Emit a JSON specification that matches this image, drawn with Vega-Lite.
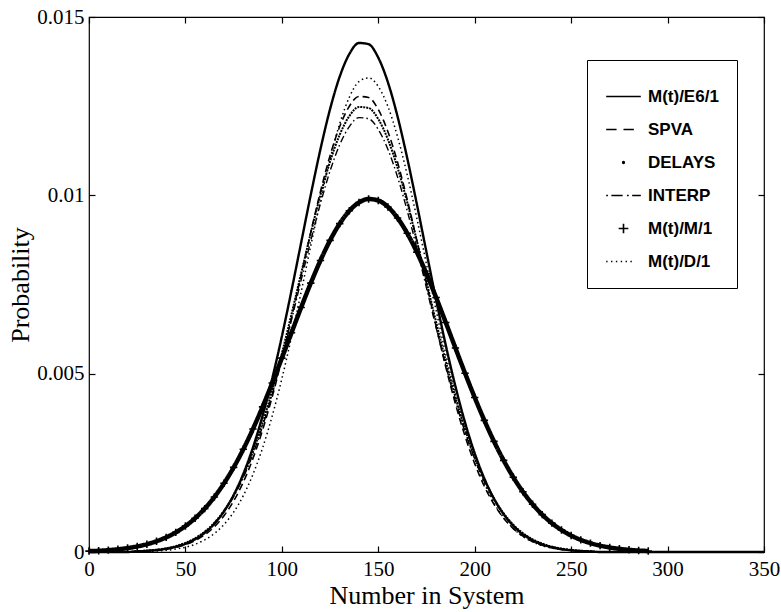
{
  "$schema": "https://vega.github.io/schema/vega-lite/v6.json",
  "width": 675,
  "height": 535,
  "autosize": {"type": "none"},
  "padding": {"left": 89, "top": 17, "right": 17, "bottom": 60},
  "background": "white",
  "config": {
    "view": {"stroke": "black", "strokeWidth": 1.2},
    "axis": {
      "domain": false,
      "grid": false,
      "ticks": true,
      "tickColor": "black",
      "tickSize": -6,
      "tickWidth": 1.2,
      "labelFont": "Liberation Serif",
      "labelFontSize": 21,
      "labelColor": "black",
      "titleFont": "Liberation Serif",
      "titleFontSize": 26,
      "titleFontWeight": "normal",
      "titleColor": "black",
      "labelFlush": false,
      "labelOverlap": false
    }
  },
  "data": {
    "values": [
      {"x": 0, "M(t)/E6/1": 0, "SPVA": 0, "DELAYS": 0, "INTERP": 0, "M(t)/M/1": 0.000024, "M(t)/D/1": 0},
      {"x": 5, "M(t)/E6/1": 0, "SPVA": 0, "DELAYS": 0, "INTERP": 0, "M(t)/M/1": 0.000035, "M(t)/D/1": 0},
      {"x": 10, "M(t)/E6/1": 0, "SPVA": 0, "DELAYS": 0, "INTERP": 0, "M(t)/M/1": 0.000052, "M(t)/D/1": 0},
      {"x": 15, "M(t)/E6/1": 0, "SPVA": 0, "DELAYS": 0, "INTERP": 0, "M(t)/M/1": 0.000076, "M(t)/D/1": 0},
      {"x": 20, "M(t)/E6/1": 0, "SPVA": 0, "DELAYS": 0, "INTERP": 0, "M(t)/M/1": 0.00011, "M(t)/D/1": 0},
      {"x": 25, "M(t)/E6/1": 0.000018, "SPVA": 0, "DELAYS": 0.000023, "INTERP": 0.000022, "M(t)/M/1": 0.000156, "M(t)/D/1": 0},
      {"x": 30, "M(t)/E6/1": 0.000031, "SPVA": 0.000028, "DELAYS": 0.00004, "INTERP": 0.000039, "M(t)/M/1": 0.000218, "M(t)/D/1": 0},
      {"x": 35, "M(t)/E6/1": 0.000053, "SPVA": 0.000047, "DELAYS": 0.000065, "INTERP": 0.000063, "M(t)/M/1": 0.000301, "M(t)/D/1": 0.000028},
      {"x": 40, "M(t)/E6/1": 0.000089, "SPVA": 0.00008, "DELAYS": 0.000105, "INTERP": 0.000102, "M(t)/M/1": 0.00041, "M(t)/D/1": 0.000048},
      {"x": 45, "M(t)/E6/1": 0.000144, "SPVA": 0.000129, "DELAYS": 0.000166, "INTERP": 0.000162, "M(t)/M/1": 0.00055, "M(t)/D/1": 0.000081},
      {"x": 50, "M(t)/E6/1": 0.000229, "SPVA": 0.000205, "DELAYS": 0.000256, "INTERP": 0.00025, "M(t)/M/1": 0.000727, "M(t)/D/1": 0.000134},
      {"x": 55, "M(t)/E6/1": 0.000355, "SPVA": 0.000318, "DELAYS": 0.000387, "INTERP": 0.000378, "M(t)/M/1": 0.000947, "M(t)/D/1": 0.000216},
      {"x": 60, "M(t)/E6/1": 0.000536, "SPVA": 0.00048, "DELAYS": 0.00057, "INTERP": 0.000556, "M(t)/M/1": 0.001217, "M(t)/D/1": 0.000339},
      {"x": 65, "M(t)/E6/1": 0.000791, "SPVA": 0.000708, "DELAYS": 0.000822, "INTERP": 0.000802, "M(t)/M/1": 0.001541, "M(t)/D/1": 0.000517},
      {"x": 70, "M(t)/E6/1": 0.001138, "SPVA": 0.001019, "DELAYS": 0.001158, "INTERP": 0.00113, "M(t)/M/1": 0.001926, "M(t)/D/1": 0.00077},
      {"x": 75, "M(t)/E6/1": 0.001597, "SPVA": 0.001429, "DELAYS": 0.001592, "INTERP": 0.001554, "M(t)/M/1": 0.002372, "M(t)/D/1": 0.001117},
      {"x": 80, "M(t)/E6/1": 0.002188, "SPVA": 0.001958, "DELAYS": 0.00214, "INTERP": 0.002089, "M(t)/M/1": 0.00288, "M(t)/D/1": 0.001579},
      {"x": 85, "M(t)/E6/1": 0.002927, "SPVA": 0.00262, "DELAYS": 0.002812, "INTERP": 0.002745, "M(t)/M/1": 0.003448, "M(t)/D/1": 0.002175},
      {"x": 90, "M(t)/E6/1": 0.00382, "SPVA": 0.003419, "DELAYS": 0.003612, "INTERP": 0.003525, "M(t)/M/1": 0.00407, "M(t)/D/1": 0.002917},
      {"x": 95, "M(t)/E6/1": 0.004863, "SPVA": 0.004352, "DELAYS": 0.004534, "INTERP": 0.004425, "M(t)/M/1": 0.004737, "M(t)/D/1": 0.003815},
      {"x": 100, "M(t)/E6/1": 0.006043, "SPVA": 0.005408, "DELAYS": 0.005561, "INTERP": 0.005428, "M(t)/M/1": 0.005435, "M(t)/D/1": 0.004857},
      {"x": 105, "M(t)/E6/1": 0.007329, "SPVA": 0.00656, "DELAYS": 0.006668, "INTERP": 0.006508, "M(t)/M/1": 0.006148, "M(t)/D/1": 0.006028},
      {"x": 110, "M(t)/E6/1": 0.008673, "SPVA": 0.007762, "DELAYS": 0.007811, "INTERP": 0.007624, "M(t)/M/1": 0.006857, "M(t)/D/1": 0.007288},
      {"x": 115, "M(t)/E6/1": 0.010017, "SPVA": 0.008965, "DELAYS": 0.008945, "INTERP": 0.00873, "M(t)/M/1": 0.007539, "M(t)/D/1": 0.008587},
      {"x": 120, "M(t)/E6/1": 0.01129, "SPVA": 0.010105, "DELAYS": 0.010009, "INTERP": 0.009769, "M(t)/M/1": 0.008173, "M(t)/D/1": 0.009855},
      {"x": 125, "M(t)/E6/1": 0.012418, "SPVA": 0.011114, "DELAYS": 0.010946, "INTERP": 0.010683, "M(t)/M/1": 0.008737, "M(t)/D/1": 0.011023},
      {"x": 130, "M(t)/E6/1": 0.013329, "SPVA": 0.01193, "DELAYS": 0.0117, "INTERP": 0.011419, "M(t)/M/1": 0.009207, "M(t)/D/1": 0.01201},
      {"x": 135, "M(t)/E6/1": 0.013963, "SPVA": 0.012497, "DELAYS": 0.012222, "INTERP": 0.011929, "M(t)/M/1": 0.009566, "M(t)/D/1": 0.012751},
      {"x": 140, "M(t)/E6/1": 0.014272, "SPVA": 0.012773, "DELAYS": 0.012478, "INTERP": 0.012179, "M(t)/M/1": 0.0098, "M(t)/D/1": 0.01319},
      {"x": 145, "M(t)/E6/1": 0.014237, "SPVA": 0.012742, "DELAYS": 0.012449, "INTERP": 0.01215, "M(t)/M/1": 0.009897, "M(t)/D/1": 0.013293},
      {"x": 150, "M(t)/E6/1": 0.01386, "SPVA": 0.012405, "DELAYS": 0.012138, "INTERP": 0.011847, "M(t)/M/1": 0.009855, "M(t)/D/1": 0.013053},
      {"x": 155, "M(t)/E6/1": 0.013167, "SPVA": 0.011784, "DELAYS": 0.011566, "INTERP": 0.011288, "M(t)/M/1": 0.009675, "M(t)/D/1": 0.012489},
      {"x": 160, "M(t)/E6/1": 0.012208, "SPVA": 0.010926, "DELAYS": 0.010773, "INTERP": 0.010514, "M(t)/M/1": 0.009365, "M(t)/D/1": 0.011641},
      {"x": 165, "M(t)/E6/1": 0.011045, "SPVA": 0.009885, "DELAYS": 0.009804, "INTERP": 0.009569, "M(t)/M/1": 0.008937, "M(t)/D/1": 0.010574},
      {"x": 170, "M(t)/E6/1": 0.009752, "SPVA": 0.008728, "DELAYS": 0.008721, "INTERP": 0.008512, "M(t)/M/1": 0.008408, "M(t)/D/1": 0.009357},
      {"x": 175, "M(t)/E6/1": 0.008403, "SPVA": 0.007521, "DELAYS": 0.007582, "INTERP": 0.0074, "M(t)/M/1": 0.0078, "M(t)/D/1": 0.008067},
      {"x": 180, "M(t)/E6/1": 0.007066, "SPVA": 0.006324, "DELAYS": 0.006441, "INTERP": 0.006286, "M(t)/M/1": 0.007134, "M(t)/D/1": 0.006777},
      {"x": 185, "M(t)/E6/1": 0.005797, "SPVA": 0.005188, "DELAYS": 0.005348, "INTERP": 0.00522, "M(t)/M/1": 0.006433, "M(t)/D/1": 0.005546},
      {"x": 190, "M(t)/E6/1": 0.004643, "SPVA": 0.004155, "DELAYS": 0.00434, "INTERP": 0.004236, "M(t)/M/1": 0.005718, "M(t)/D/1": 0.004424},
      {"x": 195, "M(t)/E6/1": 0.003628, "SPVA": 0.003247, "DELAYS": 0.003443, "INTERP": 0.00336, "M(t)/M/1": 0.005012, "M(t)/D/1": 0.003437},
      {"x": 200, "M(t)/E6/1": 0.002767, "SPVA": 0.002476, "DELAYS": 0.002668, "INTERP": 0.002604, "M(t)/M/1": 0.004332, "M(t)/D/1": 0.002601},
      {"x": 205, "M(t)/E6/1": 0.002059, "SPVA": 0.001843, "DELAYS": 0.00202, "INTERP": 0.001972, "M(t)/M/1": 0.003691, "M(t)/D/1": 0.001919},
      {"x": 210, "M(t)/E6/1": 0.001496, "SPVA": 0.001339, "DELAYS": 0.001496, "INTERP": 0.00146, "M(t)/M/1": 0.003101, "M(t)/D/1": 0.001379},
      {"x": 215, "M(t)/E6/1": 0.00106, "SPVA": 0.000949, "DELAYS": 0.001083, "INTERP": 0.001057, "M(t)/M/1": 0.002568, "M(t)/D/1": 0.000965},
      {"x": 220, "M(t)/E6/1": 0.000733, "SPVA": 0.000656, "DELAYS": 0.000765, "INTERP": 0.000747, "M(t)/M/1": 0.002097, "M(t)/D/1": 0.000658},
      {"x": 225, "M(t)/E6/1": 0.000495, "SPVA": 0.000443, "DELAYS": 0.000529, "INTERP": 0.000516, "M(t)/M/1": 0.001688, "M(t)/D/1": 0.000438},
      {"x": 230, "M(t)/E6/1": 0.000326, "SPVA": 0.000292, "DELAYS": 0.000357, "INTERP": 0.000348, "M(t)/M/1": 0.00134, "M(t)/D/1": 0.000283},
      {"x": 235, "M(t)/E6/1": 0.00021, "SPVA": 0.000188, "DELAYS": 0.000236, "INTERP": 0.00023, "M(t)/M/1": 0.001048, "M(t)/D/1": 0.000179},
      {"x": 240, "M(t)/E6/1": 0.000132, "SPVA": 0.000118, "DELAYS": 0.000152, "INTERP": 0.000148, "M(t)/M/1": 0.000809, "M(t)/D/1": 0.00011},
      {"x": 245, "M(t)/E6/1": 0.00008, "SPVA": 0.000072, "DELAYS": 0.000096, "INTERP": 0.000094, "M(t)/M/1": 0.000616, "M(t)/D/1": 0.000066},
      {"x": 250, "M(t)/E6/1": 0.000048, "SPVA": 0.000043, "DELAYS": 0.000059, "INTERP": 0.000058, "M(t)/M/1": 0.000461, "M(t)/D/1": 0.000038},
      {"x": 255, "M(t)/E6/1": 0.000028, "SPVA": 0.000025, "DELAYS": 0.000036, "INTERP": 0.000035, "M(t)/M/1": 0.000341, "M(t)/D/1": 0.000022},
      {"x": 260, "M(t)/E6/1": 0.000016, "SPVA": 0.000014, "DELAYS": 0.000021, "INTERP": 0.00002, "M(t)/M/1": 0.000249, "M(t)/D/1": 0},
      {"x": 265, "M(t)/E6/1": 0, "SPVA": 0, "DELAYS": 0, "INTERP": 0, "M(t)/M/1": 0.000179, "M(t)/D/1": 0},
      {"x": 270, "M(t)/E6/1": 0, "SPVA": 0, "DELAYS": 0, "INTERP": 0, "M(t)/M/1": 0.000127, "M(t)/D/1": 0},
      {"x": 275, "M(t)/E6/1": 0, "SPVA": 0, "DELAYS": 0, "INTERP": 0, "M(t)/M/1": 0.000089, "M(t)/D/1": 0},
      {"x": 280, "M(t)/E6/1": 0, "SPVA": 0, "DELAYS": 0, "INTERP": 0, "M(t)/M/1": 0.000061, "M(t)/D/1": 0},
      {"x": 285, "M(t)/E6/1": 0, "SPVA": 0, "DELAYS": 0, "INTERP": 0, "M(t)/M/1": 0.000041, "M(t)/D/1": 0},
      {"x": 290, "M(t)/E6/1": 0, "SPVA": 0, "DELAYS": 0, "INTERP": 0, "M(t)/M/1": 0.000028, "M(t)/D/1": 0},
      {"x": 300, "M(t)/E6/1": 0, "SPVA": 0, "DELAYS": 0, "INTERP": 0, "M(t)/D/1": 0},
      {"x": 325, "M(t)/E6/1": 0, "SPVA": 0, "DELAYS": 0, "INTERP": 0, "M(t)/D/1": 0},
      {"x": 350, "M(t)/E6/1": 0, "SPVA": 0, "DELAYS": 0, "INTERP": 0, "M(t)/D/1": 0}
    ]
  },
  "transform": [
    {"fold": ["M(t)/E6/1", "SPVA", "DELAYS", "INTERP", "M(t)/M/1", "M(t)/D/1"], "as": ["series", "p"]}
  ],
  "layer": [
    {
      "mark": {"type": "line", "interpolate": "monotone", "color": "black"},
      "encoding": {
        "x": {
          "field": "x", "type": "quantitative",
          "scale": {"domain": [0, 350], "nice": false, "zero": false},
          "axis": {"orient": "bottom", "values": [0, 50, 100, 150, 200, 250, 300, 350], "labelPadding": 12, "title": "Number in System", "titlePadding": 3}
        },
        "y": {
          "field": "p", "type": "quantitative",
          "scale": {"domain": [0, 0.015], "nice": false},
          "axis": {"orient": "left", "values": [0, 0.005, 0.01, 0.015], "format": ".3~f", "labelPadding": 11, "title": "Probability", "titlePadding": 3}
        },
        "detail": {"field": "series", "type": "nominal"},
        "strokeDash": {
          "field": "series", "type": "nominal",
          "scale": {
            "range": [[2, 1], [7, 3, 1.5, 3], [1.5, 3], [1, 0], [1, 0], [7, 4]]
          },
          "legend": null
        },
        "strokeWidth": {
          "field": "series", "type": "nominal",
          "scale": {
            "type": "ordinal",
            "range": [2, 1.4, 1.5, 2.4, 4.5, 1.6]
          },
          "legend": null
        }
      }
    },
    {
      "transform": [{"filter": "datum.series === 'M(t)/M/1'"}],
      "mark": {"type": "point", "filled": false, "color": "black", "strokeWidth": 1.6, "size": 700, "opacity": 1},
      "encoding": {
        "x": {
          "field": "x", "type": "quantitative",
          "axis": {"orient": "top", "values": [0, 50, 100, 150, 200, 250, 300, 350], "labels": false, "title": null}
        },
        "y": {
          "field": "p", "type": "quantitative",
          "axis": {"orient": "right", "values": [0, 0.005, 0.01, 0.015], "labels": false, "title": null}
        },
        "shape": {
          "field": "series", "type": "nominal",
          "scale": {
            "domain": ["M(t)/E6/1", "SPVA", "DELAYS", "INTERP", "M(t)/M/1", "M(t)/D/1"],
            "range": [
              "M-1,0H1",
              "M-1,0H-0.4M0,0H0.6",
              "M-0.05,0A0.05,0.05 0 1,0 0.05,0A0.05,0.05 0 1,0 -0.05,0",
              "M-1,0H-0.9M-0.7,0H-0.05M0.2,0H0.3M0.5,0H1",
              "M-0.28,0H0.28M0,-0.28V0.28",
              "M-1,0H-0.92M-0.72,0H-0.64M-0.44,0H-0.36M-0.16,0H-0.08M0.12,0H0.2M0.4,0H0.48"
            ]
          },
          "legend": {
            "orient": "none",
            "legendX": 498,
            "legendY": 43,
            "title": null,
            "strokeColor": "black",
            "fillColor": "white",
            "padding": 18,
            "rowPadding": 6,
            "symbolSize": 1200,
            "symbolStrokeColor": "black",
            "symbolStrokeWidth": 1.6,
            "labelFont": "Liberation Sans",
            "labelFontSize": 17,
            "labelFontWeight": "bold",
            "labelColor": "black",
            "labelOffset": 6,
            "labelLimit": 200
          }
        }
      }
    }
  ],
  "resolve": {"axis": {"x": "independent", "y": "independent"}}
}
